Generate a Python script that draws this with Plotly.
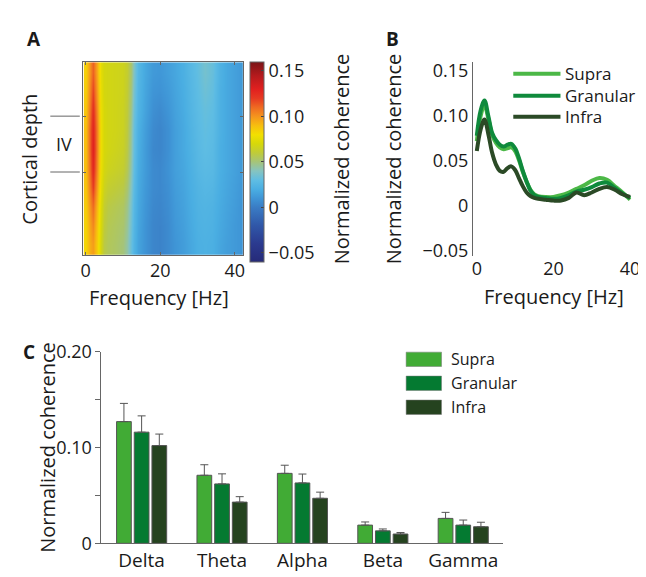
import plotly.graph_objects as go

W, H = 646, 577
def px(p): return p / W
def py(p): return 1 - p / H

FONT = "Open Sans"
TXT = "#1a1a1a"
AX = "#666666"

# ---------------- Panel A data ----------------
heat_freq = [0, 1, 2, 3, 4, 5, 6, 8, 10, 11, 12, 13, 14, 16, 18, 20, 22, 24, 26, 28, 30, 32, 34, 36, 38, 40, 42]
heat_depth = [0.05, 0.15, 0.25, 0.35, 0.45, 0.55, 0.65, 0.75, 0.85, 0.95]
heat_z = [
    [0.085,0.100,0.112,0.095,0.075,0.069,0.068,0.067,0.066,0.062,0.052,0.038,0.026,0.018,0.012,0.011,0.014,0.017,0.021,0.026,0.031,0.036,0.032,0.023,0.018,0.015,0.012],
    [0.086,0.104,0.118,0.098,0.076,0.069,0.068,0.067,0.066,0.061,0.050,0.036,0.025,0.017,0.010,0.009,0.012,0.016,0.020,0.025,0.030,0.034,0.031,0.022,0.018,0.015,0.012],
    [0.088,0.108,0.124,0.102,0.077,0.070,0.068,0.067,0.065,0.060,0.048,0.034,0.024,0.016,0.008,0.006,0.010,0.015,0.019,0.024,0.029,0.032,0.030,0.022,0.018,0.015,0.012],
    [0.090,0.112,0.128,0.105,0.078,0.070,0.068,0.067,0.065,0.059,0.046,0.032,0.022,0.014,0.006,0.004,0.008,0.014,0.018,0.023,0.028,0.031,0.029,0.022,0.018,0.015,0.012],
    [0.090,0.112,0.130,0.105,0.078,0.070,0.068,0.066,0.064,0.058,0.045,0.031,0.021,0.013,0.005,0.004,0.008,0.014,0.018,0.022,0.027,0.030,0.028,0.021,0.018,0.015,0.012],
    [0.090,0.110,0.127,0.103,0.077,0.069,0.066,0.064,0.062,0.056,0.043,0.030,0.020,0.013,0.006,0.005,0.009,0.014,0.017,0.021,0.026,0.028,0.027,0.021,0.018,0.015,0.012],
    [0.088,0.106,0.120,0.098,0.075,0.066,0.062,0.060,0.058,0.052,0.040,0.028,0.019,0.012,0.006,0.005,0.008,0.013,0.016,0.020,0.024,0.026,0.025,0.020,0.017,0.014,0.011],
    [0.086,0.100,0.110,0.092,0.072,0.062,0.058,0.056,0.054,0.048,0.037,0.026,0.018,0.011,0.005,0.004,0.007,0.012,0.015,0.019,0.023,0.024,0.023,0.019,0.016,0.013,0.010],
    [0.084,0.096,0.103,0.088,0.070,0.060,0.056,0.054,0.052,0.046,0.035,0.025,0.017,0.010,0.004,0.003,0.006,0.011,0.014,0.018,0.022,0.023,0.022,0.018,0.015,0.012,0.010],
    [0.083,0.094,0.098,0.086,0.068,0.058,0.055,0.053,0.050,0.044,0.033,0.024,0.016,0.010,0.004,0.003,0.006,0.010,0.013,0.017,0.021,0.022,0.021,0.017,0.014,0.012,0.010],
]
layer_iv_bounds = [0.28, 0.57]
cbar_ticks = [-0.05, 0, 0.05, 0.10, 0.15]
cbar_ticktext = ["\u22120.05", "0", "0.05", "0.10", "0.15"]

# ---------------- Panel B data ----------------
line_freq = [0, 1, 2, 3, 4, 5, 6, 7, 8, 9, 10, 11, 12, 13, 14, 15, 16, 18, 20, 22, 24, 26, 28, 30, 32, 34, 36, 38, 40]
supra_line = [0.072,0.100,0.112,0.097,0.079,0.070,0.065,0.063,0.064,0.065,0.061,0.051,0.038,0.027,0.018,0.013,0.011,0.010,0.010,0.012,0.015,0.019,0.023,0.028,0.031,0.029,0.022,0.015,0.007]
granular_line = [0.078,0.106,0.117,0.100,0.081,0.073,0.068,0.066,0.068,0.069,0.064,0.053,0.039,0.027,0.017,0.012,0.010,0.009,0.008,0.009,0.012,0.016,0.018,0.021,0.025,0.026,0.020,0.014,0.009]
infra_line = [0.061,0.085,0.096,0.080,0.059,0.046,0.039,0.038,0.042,0.044,0.040,0.031,0.022,0.015,0.011,0.009,0.008,0.007,0.006,0.006,0.009,0.015,0.012,0.015,0.019,0.021,0.018,0.013,0.010]
b_ticks = [-0.05, 0, 0.05, 0.10, 0.15]
b_ticktext = ["\u22120.05", "0", "0.05", "0.10", "0.15"]

# ---------------- Panel C data ----------------
bands = ["Delta", "Theta", "Alpha", "Beta", "Gamma"]
supra_bar = [0.127, 0.071, 0.073, 0.019, 0.026]
granular_bar = [0.116, 0.062, 0.063, 0.013, 0.019]
infra_bar = [0.102, 0.043, 0.047, 0.0097, 0.0173]
supra_err = [0.019, 0.011, 0.0085, 0.0033, 0.0063]
granular_err = [0.017, 0.0105, 0.0093, 0.002, 0.0053]
infra_err = [0.012, 0.0057, 0.0064, 0.0016, 0.0047]
c_ticks = [0, 0.05, 0.10, 0.15, 0.20]
c_ticktext = ["0", "", "0.10", "", "0.20"]

layers = ["Supra", "Granular", "Infra"]
bar_colors = ["#41ab35", "#047a31", "#25431f"]
line_colors = ["#4cb847", "#0f8a3c", "#2b4a26"]

colorscale = [
    [0.000, "#262a78"], [0.091, "#2b3a8f"], [0.182, "#3057a8"], [0.273, "#3a7cc4"],
    [0.318, "#3f95d6"], [0.364, "#4aaee2"], [0.409, "#5fbde3"], [0.455, "#86c4c0"],
    [0.500, "#a5c47a"], [0.545, "#bfcb3a"], [0.591, "#d6d80a"], [0.636, "#f2e000"],
    [0.682, "#f7be0f"], [0.727, "#f5951d"], [0.773, "#ef6a22"], [0.818, "#e63a22"],
    [0.864, "#e1201f"], [0.932, "#b41a1d"], [1.000, "#7a1517"],
]

TICK = 18
TITLE = 20

fig = go.Figure()

fig.add_trace(go.Heatmap(
    x=heat_freq, y=heat_depth, z=heat_z, zmin=-0.06, zmax=0.16,
    colorscale=colorscale, zsmooth="best", xaxis="x", yaxis="y",
    colorbar=dict(
        x=px(244), xanchor="left", xpad=0, y=py(147), yanchor="middle", ypad=0,
        len=200, lenmode="pixels", thickness=14, thicknessmode="pixels",
        outlinewidth=1, outlinecolor=AX, tickvals=cbar_ticks, ticktext=cbar_ticktext,
        ticks="inside", ticklen=3, tickcolor="#444444",
        tickfont=dict(family=FONT, size=TICK, color=TXT),
    ),
    showscale=True, hoverinfo="skip",
))

for name, vals, col in zip(layers, [supra_line, granular_line, infra_line], line_colors):
    fig.add_trace(go.Scatter(
        x=line_freq, y=vals, mode="lines", name=name, line=dict(color=col, width=4, shape="spline"),
        xaxis="x2", yaxis="y2", showlegend=False,
    ))

for name, vals, err, col in zip(layers, [supra_bar, granular_bar, infra_bar],
                                [supra_err, granular_err, infra_err], bar_colors):
    fig.add_trace(go.Bar(
        x=bands, y=vals, name=name, marker=dict(color=col, line=dict(color="#555555", width=1)),
        error_y=dict(type="data", array=err, arrayminus=[0]*len(err), symmetric=False,
                     color="#555555", thickness=1, width=4),
        xaxis="x3", yaxis="y3", showlegend=False,
    ))

tickfont = dict(family=FONT, size=TICK, color=TXT)

fig.update_layout(
    width=W, height=H, margin=dict(l=0, r=0, t=0, b=0),
    paper_bgcolor="white", plot_bgcolor="white",
    font=dict(family=FONT, size=TICK, color=TXT),
    barmode="group", bargap=0.34, bargroupgap=0.167,
    xaxis=dict(domain=[px(74), px(237)], range=[-0.8, 42.2], tickvals=[0, 20, 40],
               ticks="inside", ticklen=3, tickcolor=AX, showline=True, linecolor=AX, linewidth=1,
               mirror="ticks", showgrid=False, zeroline=False, tickfont=tickfont),
    yaxis=dict(domain=[py(244), py(43)], range=[1, 0], tickvals=layer_iv_bounds, ticktext=["", ""],
               ticks="inside", ticklen=3, tickcolor=AX, showline=True, linecolor=AX, linewidth=1,
               mirror="ticks", showgrid=False, zeroline=False),
    xaxis2=dict(domain=[px(471), px(632)], range=[-1, 40.3], tickvals=[0, 20, 40], ticks="",
                showline=False, showgrid=False, zeroline=False, tickfont=tickfont, anchor="y2"),
    yaxis2=dict(domain=[py(245), py(43)], range=[-0.0553, 0.1596], tickvals=b_ticks, ticktext=b_ticktext,
                ticks="", showline=True, linecolor=AX, linewidth=1, showgrid=False, zeroline=False,
                tickfont=tickfont, anchor="x2"),
    xaxis3=dict(domain=[px(93), px(502)], range=[-0.5, 4.5], ticks="", showline=True, linecolor=AX,
                linewidth=1, showgrid=False, zeroline=False, tickfont=dict(family=FONT, size=19, color=TXT),
                anchor="y3"),
    yaxis3=dict(domain=[py(545), py(345)], range=[0, 0.2], tickvals=c_ticks, ticktext=c_ticktext,
                ticks="outside", ticklen=5, tickcolor=AX, showline=True, linecolor=AX, linewidth=1,
                showgrid=False, zeroline=False, tickfont=tickfont, anchor="x3"),
)

shapes = []
for b in layer_iv_bounds:
    shapes.append(dict(type="line", xref="paper", yref="y", x0=px(41), x1=px(71), y0=b, y1=b,
                       line=dict(color=AX, width=1)))

ann = []
def label(text, x, y, size=TITLE, angle=0, bold=False, xanchor="center"):
    ann.append(dict(text=f"<b>{text}</b>" if bold else text, x=px(x), y=py(y), xref="paper", yref="paper",
                    showarrow=False, textangle=angle, xanchor=xanchor, yanchor="middle",
                    font=dict(family=FONT, size=size, color=TXT)))

label("A", 24, 19, size=19, bold=True)
label("B", 389, 19, size=19, bold=True)
label("C", 19, 345, size=19, bold=True)
label("IV", 55, 128, size=18)
label("Cortical depth", 19, 144, angle=-90)
label("Frequency [Hz]", 152, 288)
label("Frequency [Hz]", 553, 287)
label("Normalized coherence", 337, 144, angle=-90)
label("Normalized coherence", 390, 144, angle=-90)
label("Normalized coherence", 38, 445, angle=-90)

# Panel B legend
for i, (name, col) in enumerate(zip(layers, line_colors)):
    yy = [55, 78, 100][i]
    shapes.append(dict(type="line", xref="paper", yref="paper", x0=px(512), x1=px(560),
                       y0=py(yy), y1=py(yy), line=dict(color=col, width=4)))
    label(name, 563, yy, size=17, xanchor="left")

# Panel C legend
for i, (name, col) in enumerate(zip(layers, bar_colors)):
    yc = [353, 378, 403][i]
    shapes.append(dict(type="rect", xref="paper", yref="paper", x0=px(403), x1=px(439),
                       y0=py(yc - 7.5), y1=py(yc + 7.5), fillcolor=col, line=dict(color="#777777", width=0.5)))
    label(name, 447, yc, size=16, xanchor="left")

fig.update_layout(shapes=shapes, annotations=ann)
fig.write_html("out.html")
